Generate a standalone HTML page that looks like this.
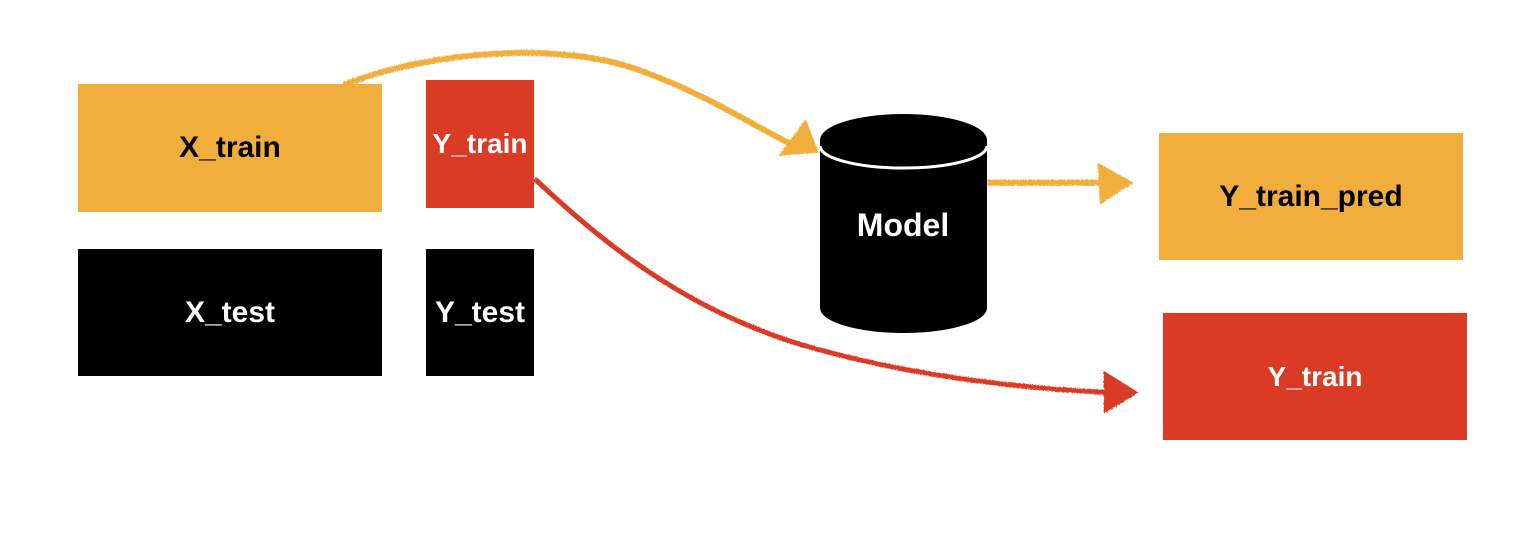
<!DOCTYPE html>
<html><head><style>
html,body{margin:0;padding:0;background:#fff;}
body{width:1536px;height:534px;position:relative;overflow:hidden;font-family:"Liberation Sans",Arial,sans-serif;font-weight:bold;}
.b{position:absolute;display:flex;align-items:center;justify-content:center;font-size:30px;}
.o{background:#F2AE3D;color:#000;}
.r{background:#DB3A25;color:#fff;}
.k{background:#000;color:#fff;}
</style></head><body>
<svg width="1536" height="534" style="position:absolute;left:0;top:0">
<defs>
<filter id="rough"><feTurbulence baseFrequency="0.9" numOctaves="2" result="n"/><feDisplacementMap in="SourceGraphic" in2="n" scale="3"/></filter>
</defs>
<g filter="url(#rough)">
<path d="M343 84 C430 50 560 40 640 70 C710 95 760 130 800 148" stroke="#F2AE3D" stroke-width="6" fill="none"/>
<polygon points="778,155 805,118 818,152" fill="#F2AE3D"/>
<path d="M987 182 L1105 182" stroke="#F2AE3D" stroke-width="6" fill="none"/>
<polygon points="1097,162 1133,182 1099,204" fill="#F2AE3D"/>
<path d="M534 178 C610 250 700 320 830 352 C930 378 1030 388 1110 392" stroke="#DB3A25" stroke-width="5" fill="none"/>
<polygon points="1103,370 1138,392 1103,413" fill="#DB3A25"/>
</g>
<path d="M820 140 L820 308 A83.5 25 0 0 0 987 308 L987 140 Z" fill="#000"/>
<ellipse cx="903.5" cy="140" rx="83.5" ry="26" fill="#000"/>
<path d="M820 146 A83.5 22 0 0 0 987 146" stroke="#fff" stroke-width="3" fill="none"/>
<text x="903" y="236" text-anchor="middle" font-family="Liberation Sans, Arial, sans-serif" font-weight="bold" font-size="32" fill="#fff">Model</text>
</svg>
<div class="b o" style="left:78px;top:84px;width:304px;height:128px;">X_train</div>
<div class="b r" style="left:426px;top:80px;width:108px;height:128px;font-size:28px;padding-bottom:2px;box-sizing:border-box;align-items:flex-start;padding-top:48px;">Y_train</div>
<div class="b k" style="left:78px;top:249px;width:304px;height:127px;">X_test</div>
<div class="b k" style="left:426px;top:249px;width:108px;height:127px;">Y_test</div>
<div class="b o" style="left:1159px;top:133px;width:304px;height:127px;">Y_train_pred</div>
<div class="b r" style="left:1163px;top:313px;width:304px;height:127px;font-size:28px;">Y_train</div>
</body></html>
